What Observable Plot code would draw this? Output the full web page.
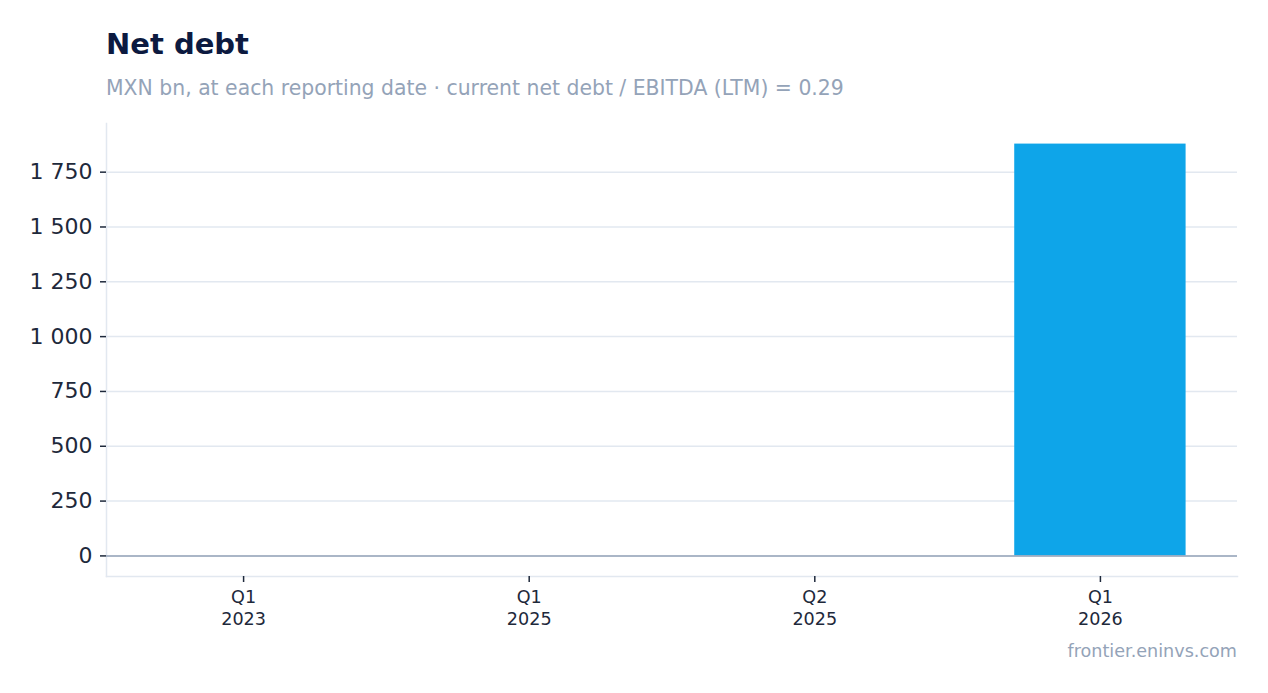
<!DOCTYPE html>
<html>
<head>
<meta charset="utf-8">
<script src="https://cdn.jsdelivr.net/npm/d3@7"></script>
<script src="https://cdn.jsdelivr.net/npm/@observablehq/plot@0.6"></script>
<style>
  html, body { margin: 0; padding: 0; background: #ffffff; }
  body { width: 1268px; height: 693px; position: relative; font-family: "DejaVu Sans", sans-serif; }
  #title { position: absolute; left: 106px; top: 27px; font-size: 29px; font-weight: bold; color: #0c1a40; line-height: 1.2; }
  #subtitle { position: absolute; left: 106px; top: 76px; font-size: 20.4px; color: #94a3b8; line-height: 1.2; }
  #chart { position: absolute; left: 0; top: 110px; }
  #caption { position: absolute; right: 31px; top: 641px; font-size: 17.6px; color: #94a3b8; line-height: 1.2; }
</style>
</head>
<body>
<div id="title">Net debt</div>
<div id="subtitle">MXN bn, at each reporting date · current net debt / EBITDA (LTM) = 0.29</div>
<div id="chart"></div>
<div id="caption">frontier.eninvs.com</div>
<script>
const periods = ["Q1 2023", "Q1 2025", "Q2 2025", "Q1 2026"];
const netDebt = [0, 0, 0, 1878];
const yTicks = [0, 250, 500, 750, 1000, 1250, 1500, 1750];

const data = periods.map((p, i) => ({period: p, value: netDebt[i]}));
const maxV = d3.max(netDebt);
const pad = maxV * 0.05;
const fmt = v => d3.format(",")(v).replace(/,/g, " ");

const chart = Plot.plot({
  width: 1268,
  height: 530,
  marginLeft: 106,
  marginRight: 31,
  marginTop: 13,
  marginBottom: 64,
  style: { fontFamily: "DejaVu Sans, sans-serif", color: "#1e293b", background: "transparent" },
  x: { domain: periods, paddingInner: 0.4, paddingOuter: 0.18, round: false, label: null },
  y: { domain: [d3.min(netDebt) - pad, maxV + pad], label: null },
  marks: [
    Plot.gridY(yTicks, { stroke: "#e2e8f0", strokeOpacity: 1, strokeWidth: 1.5 }),
    Plot.frame({ anchor: "left", stroke: "#e2e8f0", strokeWidth: 1.5 }),
    Plot.frame({ anchor: "bottom", stroke: "#e2e8f0", strokeWidth: 1.5 }),
    Plot.barY(data, { x: "period", y: "value", fill: "#0ea5e9" }),
    Plot.ruleY([0], { stroke: "#94a3b8", strokeWidth: 1.5 }),
    Plot.axisY(yTicks, { tickFormat: fmt, fontSize: 22, tickSize: 6, tickPadding: 8, stroke: "#1e293b", strokeWidth: 1.5 }),
    Plot.axisX({ tickFormat: d => d.replace(" ", "\n"), fontSize: 17.6, tickSize: 6, tickPadding: 5, lineHeight: 1.25, stroke: "#1e293b", strokeWidth: 1.5 })
  ]
});
document.getElementById("chart").appendChild(chart);
</script>
</body>
</html>
